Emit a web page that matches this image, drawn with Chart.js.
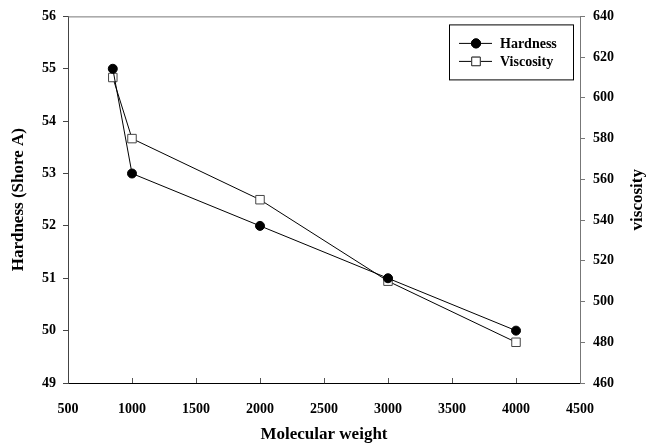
<!DOCTYPE html>
<html>
<head>
<meta charset="utf-8">
<script src="https://cdn.jsdelivr.net/npm/chart.js@4"></script>
<style>
  html, body { margin: 0; padding: 0; background: #fff; }
  #caja { width: 661px; height: 446px; }
</style>
</head>
<body>
<div id="caja"><canvas id="graf"></canvas></div>
<script>
// Datos: peso molecular vs dureza y viscosidad
let pesos = [850, 1000, 2000, 3000, 4000];
let dureza = [55, 53, 52, 51, 50];
let viscosidad = [610, 580, 550, 510, 480];

let fuente = 'Liberation Serif, Times New Roman, serif';

function puntos(valores){
  let lista = [];
  for (let i = 0; i < pesos.length; i++){
    lista.push({ x: pesos[i], y: valores[i] });
  }
  return lista;
}

// Marco superior, titulo derecho girado y leyenda dentro del area
let extras = {
  id: 'extras',
  afterDraw(chart){
    let ctx = chart.ctx;
    let area = chart.chartArea;
    ctx.save();

    ctx.strokeStyle = '#777';
    ctx.lineWidth = 1;
    ctx.beginPath();
    ctx.moveTo(area.left, area.top + 0.5);
    ctx.lineTo(area.right, area.top + 0.5);
    ctx.stroke();

    // titulo del eje derecho (leido de abajo hacia arriba)
    ctx.fillStyle = '#000';
    ctx.font = 'bold 17px ' + fuente;
    ctx.textAlign = 'center';
    ctx.textBaseline = 'middle';
    ctx.translate(638, (area.top + area.bottom) / 2);
    ctx.rotate(-Math.PI / 2);
    ctx.fillText('viscosity', 0, 0);
    ctx.setTransform(1, 0, 0, 1, 0, 0);

    // leyenda
    let x0 = area.right - 131, y0 = area.top + 8;
    ctx.strokeStyle = '#000';
    ctx.lineWidth = 1;
    ctx.strokeRect(x0 + 0.5, y0 + 0.5, 124, 55);
    let filas = [y0 + 19, y0 + 37];
    chart.data.datasets.forEach(function(ds, i){
      let y = filas[i];
      ctx.strokeStyle = '#000';
      ctx.beginPath();
      ctx.moveTo(x0 + 10, y);
      ctx.lineTo(x0 + 43, y);
      ctx.stroke();
      Chart.helpers.drawPoint(ctx, {
        pointStyle: ds.pointStyle,
        radius: ds.pointRadius,
        borderWidth: 1,
        rotation: 0
      }, x0 + 27, y);
      ctx.fillStyle = ds.pointBackgroundColor;
      ctx.strokeStyle = ds.pointBorderColor;
      ctx.fill();
      ctx.stroke();
      ctx.fillStyle = '#000';
      ctx.font = 'bold 14px ' + fuente;
      ctx.textAlign = 'left';
      ctx.textBaseline = 'middle';
      ctx.fillText(ds.label, x0 + 51, y + 1);
    });
    ctx.restore();
  }
};

let ctx = document.getElementById('graf').getContext('2d');
let graf = new Chart(ctx, {
  type: 'line',
  data: {
    datasets: [{
      label: 'Hardness',
      data: puntos(dureza),
      yAxisID: 'y',
      borderColor: '#000',
      borderWidth: 1,
      pointStyle: 'circle',
      pointRadius: 4.5,
      pointBackgroundColor: '#000',
      pointBorderColor: '#000',
      pointBorderWidth: 1
    }, {
      label: 'Viscosity',
      data: puntos(viscosidad),
      yAxisID: 'y2',
      borderColor: '#000',
      borderWidth: 1,
      pointStyle: 'rect',
      pointRadius: 6,
      pointBackgroundColor: '#fff',
      pointBorderColor: '#444',
      pointBorderWidth: 1
    }]
  },
  options: {
    responsive: true,
    maintainAspectRatio: false,
    animation: false,
    layout: { padding: { top: 15, left: 0, right: 0, bottom: 0 } },
    plugins: {
      legend: { display: false },
      tooltip: { enabled: false }
    },
    scales: {
      x: {
        type: 'linear',
        min: 500,
        max: 4500,
        afterFit(s){ s.height = 63; },
        ticks: {
          stepSize: 500,
          color: '#000',
          padding: 23,
          maxRotation: 0,
          callback: function(v){ return String(v); },
          font: { family: fuente, size: 14, weight: 'bold' }
        },
        grid: { drawOnChartArea: false, tickLength: -5, color: '#555' },
        border: { color: '#000', width: 1 },
        title: {
          display: true,
          text: 'Molecular weight',
          color: '#000',
          padding: { top: 0, bottom: 1 },
          font: { family: fuente, size: 17, weight: 'bold' }
        }
      },
      y: {
        position: 'left',
        min: 49,
        max: 56,
        afterFit(s){ s.width = 68; },
        ticks: {
          stepSize: 1,
          color: '#000',
          padding: 7,
          font: { family: fuente, size: 14, weight: 'bold' }
        },
        grid: { drawOnChartArea: false, tickLength: 5, color: '#444' },
        border: { color: '#444', width: 1 },
        title: {
          display: true,
          text: 'Hardness (Shore A)',
          color: '#000',
          padding: { top: 8, bottom: 0 },
          font: { family: fuente, size: 17, weight: 'bold' }
        }
      },
      y2: {
        position: 'right',
        min: 460,
        max: 640,
        afterFit(s){ s.width = 81; },
        ticks: {
          stepSize: 20,
          color: '#000',
          padding: 8,
          font: { family: fuente, size: 14, weight: 'bold' }
        },
        grid: { drawOnChartArea: false, tickLength: 5, color: '#777' },
        border: { color: '#777', width: 1 }
      }
    }
  },
  plugins: [extras]
});
</script>
</body>
</html>
